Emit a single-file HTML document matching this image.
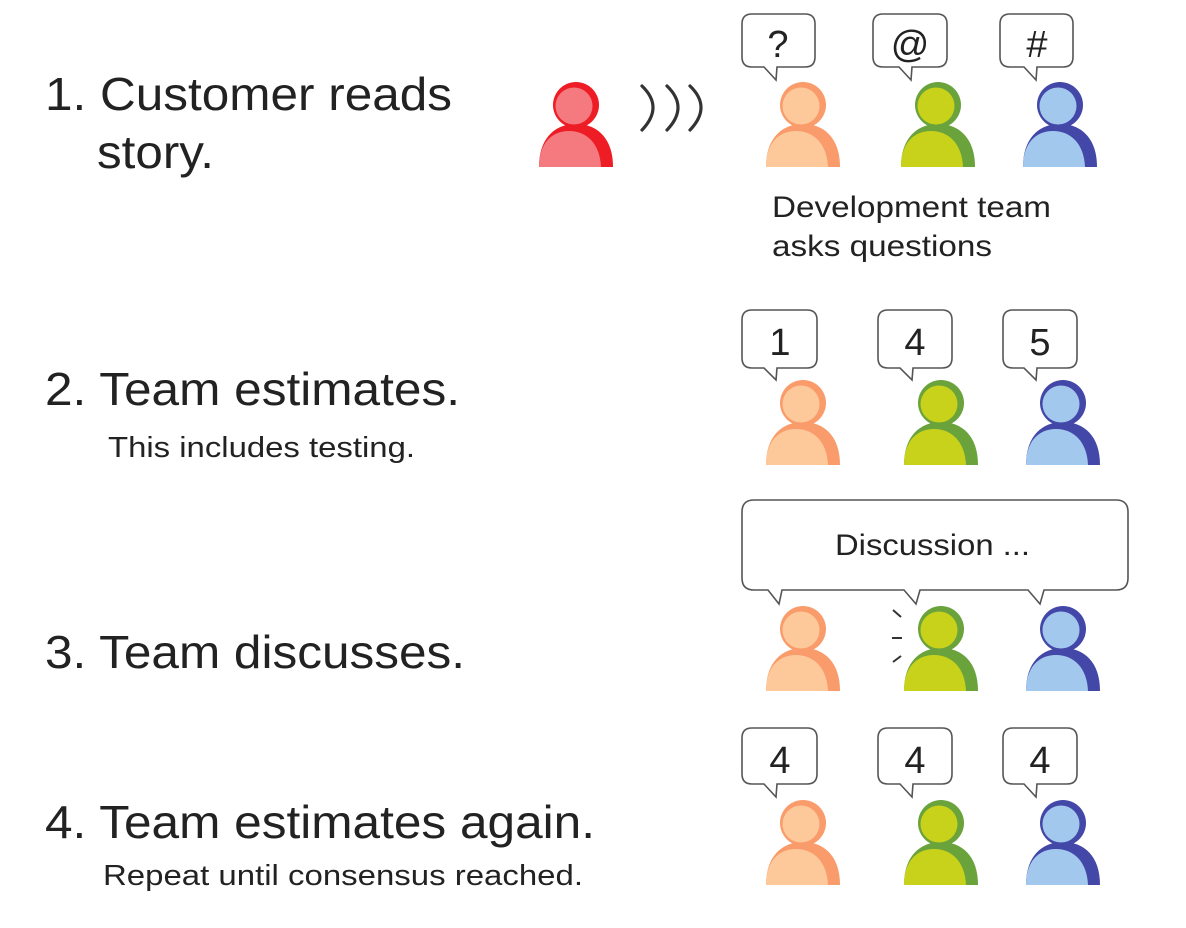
<!DOCTYPE html>
<html><head><meta charset="utf-8"><style>
html,body{margin:0;padding:0;background:#fff;}
svg{display:block;}
text{font-family:"Liberation Sans",Arial,sans-serif;fill:#222;}
</style></head><body>
<svg width="1186" height="928" viewBox="0 0 1186 928" xmlns="http://www.w3.org/2000/svg">
<defs>
<g id="p">
  <path d="M0,85 C0,56 16,42 37,42 C58,42 74,56 74,85 Z" fill="var(--d)"/>
  <circle cx="37" cy="23" r="23" fill="var(--d)"/>
  <path d="M0,85 C0,62 12,49 30,49 C48,49 61,62 62,85 Z" fill="var(--l)"/>
  <circle cx="35" cy="24" r="18.5" fill="var(--l)"/>
</g>
</defs>

<text x="45" y="110" font-size="46" textLength="407" lengthAdjust="spacingAndGlyphs">1. Customer reads</text>
<text x="97" y="168" font-size="46" textLength="117" lengthAdjust="spacingAndGlyphs">story.</text>
<text x="45" y="405" font-size="46" textLength="415" lengthAdjust="spacingAndGlyphs">2. Team estimates.</text>
<text x="108" y="457" font-size="29" textLength="307" lengthAdjust="spacingAndGlyphs">This includes testing.</text>
<text x="45" y="668" font-size="46" textLength="420" lengthAdjust="spacingAndGlyphs">3. Team discusses.</text>
<text x="45" y="838" font-size="46" textLength="550" lengthAdjust="spacingAndGlyphs">4. Team estimates again.</text>
<text x="103" y="885" font-size="29" textLength="480" lengthAdjust="spacingAndGlyphs">Repeat until consensus reached.</text>

<text x="772" y="217" font-size="30" textLength="279" lengthAdjust="spacingAndGlyphs">Development team</text>
<text x="772" y="256" font-size="30" textLength="220" lengthAdjust="spacingAndGlyphs">asks questions</text>

<use href="#p" x="539" y="82" style="--d:#ee1c24;--l:#f47a80"/>
<g fill="none" stroke="#333" stroke-width="3.2" stroke-linecap="round">
  <path d="M642,86 Q664,107 642,130"/>
  <path d="M667,86 Q689,107 667,130"/>
  <path d="M690,86 Q712,107 690,130"/>
</g>

<g fill="#fff" stroke="#555" stroke-width="1.6">
  <path d="M752,14 H805 Q815,14 815,24 V57 Q815,67 805,67 H777 L776,80 L764,67 H752 Q742,67 742,57 V24 Q742,14 752,14 Z"/>
  <path d="M883,14 H937 Q947,14 947,24 V57 Q947,67 937,67 H912 L911,80 L899,67 H883 Q873,67 873,57 V24 Q873,14 883,14 Z"/>
  <path d="M1010,14 H1063 Q1073,14 1073,24 V57 Q1073,67 1063,67 H1037 L1036,80 L1024,67 H1010 Q1000,67 1000,57 V24 Q1000,14 1010,14 Z"/>
  <path d="M752,310 H807 Q817,310 817,320 V358 Q817,368 807,368 H777 L776,380 L764,368 H752 Q742,368 742,358 V320 Q742,310 752,310 Z"/>
  <path d="M888,310 H942 Q952,310 952,320 V358 Q952,368 942,368 H913 L912,380 L900,368 H888 Q878,368 878,358 V320 Q878,310 888,310 Z"/>
  <path d="M1013,310 H1067 Q1077,310 1077,320 V358 Q1077,368 1067,368 H1037 L1036,380 L1024,368 H1013 Q1003,368 1003,358 V320 Q1003,310 1013,310 Z"/>
  <path d="M754,500 H1116 Q1128,500 1128,512 V578 Q1128,590 1116,590 H1044 L1040,604 L1028,590 H920 L916,604 L904,590 H782 L779,604 L768,590 H754 Q742,590 742,578 V512 Q742,500 754,500 Z"/>
  <path d="M752,728 H807 Q817,728 817,738 V774 Q817,784 807,784 H777 L776,797 L764,784 H752 Q742,784 742,774 V738 Q742,728 752,728 Z"/>
  <path d="M888,728 H942 Q952,728 952,738 V774 Q952,784 942,784 H913 L912,797 L900,784 H888 Q878,784 878,774 V738 Q878,728 888,728 Z"/>
  <path d="M1013,728 H1067 Q1077,728 1077,738 V774 Q1077,784 1067,784 H1037 L1036,797 L1024,784 H1013 Q1003,784 1003,774 V738 Q1003,728 1013,728 Z"/>
</g>
<g font-size="38" text-anchor="middle">
  <text x="778" y="57">?</text>
  <text x="910" y="57">@</text>
  <text x="1037" y="57">#</text>
  <text x="780" y="355">1</text>
  <text x="915" y="355">4</text>
  <text x="1040" y="355">5</text>
  <text x="780" y="773">4</text>
  <text x="915" y="773">4</text>
  <text x="1040" y="773">4</text>
</g>
<text x="835" y="555" font-size="30" textLength="195" lengthAdjust="spacingAndGlyphs">Discussion ...</text>

<g stroke="#333" stroke-width="2">
  <line x1="893" y1="610" x2="901" y2="617"/>
  <line x1="892" y1="638" x2="902" y2="638"/>
  <line x1="893" y1="662" x2="901" y2="656"/>
</g>

<g>
  <use href="#p" x="766" y="82" style="--d:#f99b6a;--l:#fdc99a"/>
  <use href="#p" x="901" y="82" style="--d:#6aa23c;--l:#c9d21a"/>
  <use href="#p" x="1023" y="82" style="--d:#4348a8;--l:#a3c8ee"/>

  <use href="#p" x="766" y="380" style="--d:#f99b6a;--l:#fdc99a"/>
  <use href="#p" x="904" y="380" style="--d:#6aa23c;--l:#c9d21a"/>
  <use href="#p" x="1026" y="380" style="--d:#4348a8;--l:#a3c8ee"/>

  <use href="#p" x="766" y="606" style="--d:#f99b6a;--l:#fdc99a"/>
  <use href="#p" x="904" y="606" style="--d:#6aa23c;--l:#c9d21a"/>
  <use href="#p" x="1026" y="606" style="--d:#4348a8;--l:#a3c8ee"/>

  <use href="#p" x="766" y="800" style="--d:#f99b6a;--l:#fdc99a"/>
  <use href="#p" x="904" y="800" style="--d:#6aa23c;--l:#c9d21a"/>
  <use href="#p" x="1026" y="800" style="--d:#4348a8;--l:#a3c8ee"/>
</g>
</svg>
</body></html>
